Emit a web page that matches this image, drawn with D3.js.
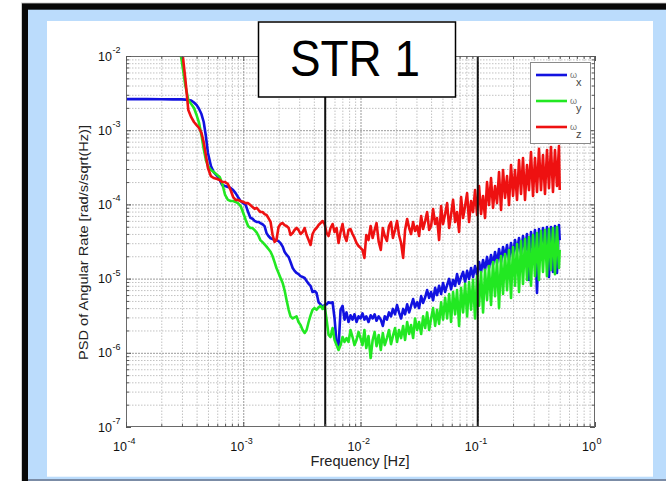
<!DOCTYPE html>
<html>
<head>
<meta charset="utf-8">
<script src="https://cdn.jsdelivr.net/npm/d3@7"></script>
<style>
  body { margin: 0; background: #fff; }
  svg { display: block; }
  text { font-family: "Liberation Sans", Arial, Helvetica, sans-serif; }
</style>
</head>
<body>
<svg id="chart" width="666" height="481"></svg>
<script>
// Frequency bins [Hz] shared by the three rate channels
const freq = [
  1e-4, 1.5e-4, 2e-4, 2.5e-4, 2.8e-4, 3e-4, 3.2e-4, 3.4e-4, 3.6e-4, 3.8e-4,
  4e-4, 4.2e-4, 4.4e-4, 4.6e-4, 4.8e-4, 5e-4, 5.3e-4, 5.6e-4, 6e-4, 6.3e-4,
  6.6e-4, 7e-4, 7.4e-4, 7.8e-4, 8.2e-4, 8.6e-4, 9e-4, 9.5e-4, 1e-3, 1.05e-3,
  1.1e-3, 1.15e-3,
  0.0012, 0.00125, 0.0013, 0.00135, 0.0014, 0.00146, 0.00152, 0.00158, 0.00164, 0.00171,
  0.00178, 0.00185, 0.00192, 0.002, 0.00208, 0.00217, 0.00225, 0.00234, 0.00244, 0.00253,
  0.00264, 0.00274, 0.00285, 0.00296, 0.00308, 0.00321, 0.00334, 0.00347, 0.00361, 0.00375,
  0.0039, 0.00406, 0.00422, 0.00439, 0.00457, 0.00475, 0.00494, 0.00514, 0.00534, 0.00555,
  0.00578, 0.00601, 0.00625, 0.0065, 0.00676, 0.00703, 0.00731, 0.0076, 0.0079, 0.00822,
  0.00855, 0.00889, 0.00925, 0.00962, 0.01,
  0.0104, 0.0108, 0.0112, 0.0117, 0.0122, 0.0127, 0.0132, 0.0137, 0.0143, 0.0149,
  0.0155, 0.0161, 0.0168, 0.0175, 0.0182, 0.0189, 0.0197, 0.0205, 0.0213, 0.0222,
  0.0231, 0.024, 0.025, 0.026, 0.027, 0.0281, 0.0292, 0.0304, 0.0316, 0.0329,
  0.0342, 0.0356, 0.037, 0.0385, 0.04, 0.0416, 0.0433, 0.045, 0.0468, 0.0487,
  0.0506, 0.0527, 0.0548, 0.057, 0.0592, 0.0616, 0.0641, 0.0666, 0.0693, 0.0721,
  0.075, 0.078, 0.0811, 0.0843, 0.0877, 0.0912, 0.0949, 0.0987, 0.1026, 0.1067,
  0.111, 0.1154, 0.12, 0.1248, 0.1298, 0.135, 0.1404, 0.146, 0.1519, 0.158,
  0.1643, 0.1709, 0.1777, 0.1848, 0.1922, 0.1999, 0.2079, 0.2162, 0.2249, 0.2339,
  0.2432, 0.2529, 0.2631, 0.2736, 0.2845, 0.2959, 0.3078, 0.3201, 0.3329, 0.3462,
  0.3601, 0.3745, 0.3895, 0.405, 0.4212, 0.4381, 0.4556, 0.4738, 0.4928, 0.5
];

// PSD of angular rate, x axis [rad/s/sqrt(Hz)]
const psdX = [
  2.62e-3, 2.62e-3, 2.61e-3, 2.6e-3, 2.6e-3, 2.6e-3, 2.58e-3, 2.55e-3, 2.51e-3, 2.36e-3,
  2.19e-3, 1.93e-3, 1.65e-3, 1.29e-3, 8.35e-4, 4.93e-4, 3.29e-4, 2.73e-4, 2.41e-4, 2.13e-4,
  1.83e-4, 1.77e-4, 1.72e-4, 1.66e-4, 1.56e-4, 1.42e-4, 1.26e-4, 1.11e-4, 1.04e-4, 9.8e-5,
  7.9e-5, 6.6e-5,
  6.4e-5, 6.0e-5, 5.8e-5, 5.8e-5, 5.6e-5, 5.4e-5, 5.1e-5, 4.1e-5, 3.75e-5, 3.5e-5,
  3.4e-5, 3.3e-5, 3.3e-5, 3.2e-5, 3.0e-5, 2.7e-5, 2.3e-5, 2.1e-5, 1.95e-5, 1.67e-5,
  1.39e-5, 1.27e-5, 1.19e-5, 1.15e-5, 1.08e-5, 1.05e-5, 1.02e-5, 9.3e-6, 8.5e-6, 8.0e-6,
  6.6e-6, 6.8e-6, 6.4e-6, 4.8e-6, 4.5e-6, 4.1e-6, 4.4e-6, 4.5e-6, 4.8e-6, 4.7e-6,
  4.8e-6, 2.9e-6, 1.35e-6, 1.2e-6, 3.8e-6, 4.3e-6, 2.8e-6, 3.5e-6, 2.6e-6, 3.2e-6,
  2.8e-6, 3.3e-6, 2.6e-6, 3.1e-6, 2.9e-6,
  3.4e-6, 2.8e-6, 3.1e-6, 2.6e-6, 3.2e-6, 2.9e-6, 3.3e-6, 2.7e-6, 3.1e-6, 2.8e-6,
  2.3e-6, 3.1e-6, 2.8e-6, 3.5e-6, 3.1e-6, 3.9e-6, 3.3e-6, 4.4e-6, 3.5e-6, 2.9e-6,
  3.9e-6, 3.3e-6, 4.5e-6, 3.5e-6, 4.3e-6, 5.3e-6, 4.1e-6, 4.8e-6, 4.0e-6, 5.8e-6,
  4.7e-6, 5.6e-6, 7.0e-6, 5.5e-6, 6.6e-6, 5.1e-6, 7.5e-6, 6.0e-6, 8.0e-6, 6.2e-6,
  8.7e-6, 6.6e-6, 8.2e-6, 9.9e-6, 7.2e-6, 9.6e-6, 8.0e-6, 1.15e-5, 8.5e-6, 1.05e-5,
  1.23e-5, 9.0e-6, 1.27e-5, 9.9e-6, 1.39e-5, 1.05e-5, 1.48e-5, 1.12e-5, 1.67e-5, 1.23e-5,
  1.78e-5, 1.31e-5, 1.96e-5, 1.39e-5, 2.08e-5, 1.53e-5, 2.28e-5, 1.62e-5, 2.51e-5, 1.67e-5,
  2.67e-5, 1.9e-5, 2.84e-5, 1.78e-5, 3.02e-5, 2.02e-5, 3.31e-5, 2.28e-5, 3.53e-5, 2.15e-5,
  3.75e-5, 2.43e-5, 3.99e-5, 9.6e-6, 4.25e-5, 2.59e-5, 4.52e-5, 6.4e-6, 4.66e-5, 2.75e-5,
  4.81e-5, 2.43e-5, 4.96e-5, 1.05e-5, 4.96e-5, 1.23e-5, 5.11e-5, 1.19e-5, 5.27e-5, 3.31e-5
];

// PSD of angular rate, y axis
const psdY = [
  2.0e-1, 1.2e-1, 7e-2, 3.5e-2, 1.6e-2, 8.3e-3, 4.1e-3, 2.55e-3, 2.25e-3, 1.99e-3,
  1.6e-3, 1.25e-3, 8.6e-4, 5.6e-4, 4.0e-4, 3.3e-4, 2.91e-4, 2.73e-4, 2.49e-4, 2.34e-4,
  1.94e-4, 1.34e-4, 1.15e-4, 1.11e-4, 1.11e-4, 1.08e-4, 1.04e-4, 9.5e-5, 7.65e-5, 6.16e-5,
  5.11e-5, 4.81e-5,
  4.8e-5, 4.5e-5, 4.2e-5, 3.75e-5, 3.3e-5, 3.1e-5, 2.9e-5, 2.7e-5, 2.5e-5, 2.3e-5,
  2.0e-5, 1.67e-5, 1.39e-5, 1.19e-5, 1.02e-5, 8.7e-6, 7.0e-6, 5.15e-6, 3.8e-6, 3.1e-6,
  2.9e-6, 3.0e-6, 3.1e-6, 2.6e-6, 2.37e-6, 2.03e-6, 1.85e-6, 2.03e-6, 2.6e-6, 3.2e-6,
  3.8e-6, 4.0e-6, 3.8e-6, 4.1e-6, 4.3e-6, 3.9e-6, 4.3e-6, 2.8e-6, 1.74e-6, 1.63e-6,
  2.16e-6, 1.49e-6, 1.27e-6, 1.09e-6, 1.27e-6, 1.63e-6, 1.4e-6, 1.58e-6, 1.4e-6, 2.03e-6,
  1.63e-6, 1.27e-6, 1.49e-6, 1.91e-6, 1.58e-6,
  1.27e-6, 2.03e-6, 1.16e-6, 1.68e-6, 8.5e-7, 1.49e-6, 1.91e-6, 1.23e-6, 1.74e-6, 1.09e-6,
  1.85e-6, 1.27e-6, 1.58e-6, 2.03e-6, 1.31e-6, 1.68e-6, 2.16e-6, 1.4e-6, 2.03e-6, 1.58e-6,
  2.3e-6, 1.49e-6, 2.6e-6, 1.79e-6, 2.37e-6, 1.58e-6, 2.9e-6, 2.03e-6, 2.6e-6, 1.79e-6,
  3.1e-6, 2.16e-6, 3.5e-6, 2.03e-6, 2.9e-6, 4.0e-6, 2.3e-6, 3.8e-6, 2.45e-6, 4.8e-6,
  2.8e-6, 5.5e-6, 2.9e-6, 6.2e-6, 2.6e-6, 6.6e-6, 3.3e-6, 7.0e-6, 2.3e-6, 7.5e-6,
  3.5e-6, 8.5e-6, 3.1e-6, 9.0e-6, 3.8e-6, 9.6e-6, 2.9e-6, 1.08e-5, 4.3e-6, 1.23e-5,
  3.5e-6, 1.31e-5, 5.15e-6, 1.48e-5, 4.4e-6, 1.67e-5, 5.8e-6, 1.78e-5, 4.0e-6, 2.02e-5,
  6.2e-6, 2.15e-5, 7.0e-6, 2.43e-5, 5.5e-6, 2.67e-5, 8.0e-6, 2.93e-5, 6.6e-6, 3.21e-5,
  8.5e-6, 3.42e-5, 9.6e-6, 3.64e-5, 8.0e-6, 3.87e-5, 1.08e-5, 4.12e-5, 9.6e-6, 4.38e-5,
  1.23e-5, 4.52e-5, 1.08e-5, 4.66e-5, 1.31e-5, 4.81e-5, 1.15e-5, 4.96e-5, 1.39e-5, 2.43e-5
];

// PSD of angular rate, z axis
const psdZ = [
  2.5e-1, 1.4e-1, 8e-2, 4e-2, 2.2e-2, 1.28e-2, 5.05e-3, 1.87e-3, 1.5e-3, 1.29e-3,
  1.17e-3, 1.07e-3, 9.2e-4, 6.9e-4, 4.6e-4, 3.1e-4, 2.4e-4, 2.27e-4, 2.2e-4, 2.13e-4,
  2.0e-4, 2.0e-4, 1.88e-4, 1.56e-4, 1.26e-4, 1.15e-4, 1.15e-4, 1.11e-4, 1.08e-4, 1.04e-4,
  1.04e-4, 9.8e-5,
  9.2e-5, 8.7e-5, 9.0e-5, 8.4e-5, 7.9e-5, 7.9e-5, 7.4e-5, 7.2e-5, 6.55e-5, 5.8e-5,
  3.87e-5, 3.12e-5, 3.31e-5, 4.96e-5, 5.44e-5, 5.61e-5, 5.27e-5, 5.11e-5, 4.81e-5, 3.87e-5,
  4.12e-5, 4.52e-5, 4.81e-5, 4.52e-5, 3.99e-5, 4.25e-5, 4.81e-5, 3.87e-5, 3.31e-5, 2.84e-5,
  3.99e-5, 4.52e-5, 4.81e-5, 5.27e-5, 5.61e-5, 5.97e-5, 5.44e-5, 4.12e-5, 3.75e-5, 4.81e-5,
  5.44e-5, 4.25e-5, 4.81e-5, 3.02e-5, 4.25e-5, 5.44e-5, 3.75e-5, 3.21e-5, 4.52e-5, 4.66e-5,
  3.99e-5, 3.53e-5, 3.02e-5, 2.75e-5, 2.59e-5,
  2.43e-5, 1.9e-5, 3.87e-5, 3.31e-5, 5.11e-5, 3.53e-5, 4.52e-5, 5.61e-5, 3.12e-5, 2.43e-5,
  4.81e-5, 3.75e-5, 3.21e-5, 5.11e-5, 5.79e-5, 3.53e-5, 4.52e-5, 5.97e-5, 3.87e-5, 3.02e-5,
  1.9e-5, 4.52e-5, 6.35e-5, 4.81e-5, 3.99e-5, 5.79e-5, 4.38e-5, 5.11e-5, 3.75e-5, 6.97e-5,
  4.66e-5, 5.97e-5, 7.9e-5, 4.52e-5, 5.11e-5, 8.67e-5, 5.44e-5, 6.55e-5, 3.31e-5, 9.5e-5,
  5.44e-5, 7.42e-5, 1.04e-4, 4.81e-5, 7.19e-5, 1.15e-4, 5.79e-5, 7.9e-5, 4.25e-5, 1.26e-4,
  6.55e-5, 9.5e-5, 1.42e-4, 5.79e-5, 1.11e-4, 7.9e-5, 1.56e-4, 7.19e-5, 1.77e-4, 7.42e-5,
  1.3e-4, 6.55e-5, 2.0e-4, 9.8e-5, 2.27e-4, 8.95e-5, 1.77e-4, 1.04e-4, 2.73e-4, 8.4e-5,
  2.91e-4, 1.22e-4, 2.41e-4, 9.8e-5, 3.4e-4, 1.3e-4, 2.91e-4, 1.15e-4, 3.97e-4, 1.38e-4,
  4.22e-4, 1.15e-4, 3.4e-4, 1.56e-4, 5.08e-4, 1.3e-4, 4.22e-4, 1.47e-4, 5.6e-4, 1.56e-4,
  4.63e-4, 1.38e-4, 5.4e-4, 1.66e-4, 5.95e-4, 1.47e-4, 5.4e-4, 1.77e-4, 6.1e-4, 1.56e-4
];

const seriesNames = ["x", "y", "z"];
const seriesColors = ["#1212e0", "#22e822", "#ee1111"];
const seriesValues = [psdX, psdY, psdZ];

const xTicks = [1e-4, 1e-3, 1e-2, 1e-1, 1];
const xTickExp = ["-4", "-3", "-2", "-1", "0"];
const yTicks = [1e-7, 1e-6, 1e-5, 1e-4, 1e-3, 1e-2];
const yTickExp = ["-7", "-6", "-5", "-4", "-3", "-2"];
const markerFreqs = [5e-3, 1e-1];

const titleText = "STR 1";
const xLabel = "Frequency [Hz]";
const yLabel = "PSD of Angular Rate [rad/s/sqrt(Hz)]";

// ---- layout ----
const W = 666, H = 481;
const X0 = 126, X1 = 595, Y0 = 56, Y1 = 427;

const x = d3.scaleLog().domain([1e-4, 1]).range([X0, X1]);
const y = d3.scaleLog().domain([1e-7, 1e-2]).range([Y1, Y0]);

const svg = d3.select("#chart");

// slide frame: black rule, light-blue mat, white panel
svg.append("rect").attr("width", W).attr("height", H).attr("fill", "#fff");
svg.append("rect").attr("x", 21).attr("y", 2.5).attr("width", W - 21).attr("height", H - 2.5).attr("fill", "#cfcfcf");
svg.append("rect").attr("x", 22).attr("y", 3.4).attr("width", W - 22).attr("height", H - 3.4).attr("fill", "#080808");
svg.append("rect").attr("x", 28).attr("y", 9.7).attr("width", W - 28).attr("height", H - 9.7).attr("fill", "#bbdcfc");
svg.append("rect").attr("x", 28).attr("y", 479).attr("width", W - 28).attr("height", 2).attr("fill", "#7b8ca6");
svg.append("rect").attr("x", 47).attr("y", 21).attr("width", 606).attr("height", 455.7).attr("fill", "#fff");

// decade and sub-decade positions for grid and ticks
const minorX = [], minorY = [];
for (let e = -4; e < 0; e++) for (let m = 2; m <= 9; m++) minorX.push(m * Math.pow(10, e));
for (let e = -7; e < -2; e++) for (let m = 2; m <= 9; m++) minorY.push(m * Math.pow(10, e));

function gridX(vals, color, dash) {
  const g = svg.append("g").attr("transform", `translate(0,${Y1})`)
    .call(d3.axisBottom(x).tickValues(vals).tickSize(-(Y1 - Y0)).tickFormat(""));
  g.select(".domain").remove();
  g.selectAll(".tick line").attr("stroke", color).attr("stroke-dasharray", dash);
}
function gridY(vals, color, dash) {
  const g = svg.append("g").attr("transform", `translate(${X0},0)`)
    .call(d3.axisLeft(y).tickValues(vals).tickSize(-(X1 - X0)).tickFormat(""));
  g.select(".domain").remove();
  g.selectAll(".tick line").attr("stroke", color).attr("stroke-dasharray", dash);
}
gridX(minorX, "#c2c2c2", "1.5,1.5");
gridY(minorY, "#c2c2c2", "1.5,1.5");
gridX(xTicks.slice(1, -1), "#9a9a9a", "2,1");
gridY(yTicks.slice(1, -1), "#9a9a9a", "2,1");

// PSD curves
svg.append("clipPath").attr("id", "plotClip")
  .append("rect").attr("x", X0).attr("y", Y0).attr("width", X1 - X0).attr("height", Y1 - Y0);

const plotG = svg.append("g").attr("clip-path", "url(#plotClip)");
seriesValues.forEach((vals, si) => {
  const line = d3.line()
    .defined(i => vals[i] != null)
    .x(i => x(freq[i]))
    .y(i => y(vals[i]));
  plotG.append("path")
    .attr("d", line(d3.range(freq.length)))
    .attr("fill", "none")
    .attr("stroke", seriesColors[si])
    .attr("stroke-width", 2.6)
    .attr("stroke-linejoin", "round");
});

// band markers
markerFreqs.forEach(f => {
  svg.append("line")
    .attr("x1", x(f)).attr("x2", x(f)).attr("y1", Y0).attr("y2", Y1)
    .attr("stroke", "#111").attr("stroke-width", 2);
});

// axes box with inward ticks on all four sides
svg.append("rect").attr("x", X0 + 0.5).attr("y", Y0 + 0.5)
  .attr("width", X1 - X0 - 1).attr("height", Y1 - Y0 - 1)
  .attr("fill", "none").attr("stroke", "#6a6a6a");

function ticks(axisFn, scale, vals, size, tr) {
  const g = svg.append("g").attr("transform", tr)
    .call(axisFn(scale).tickValues(vals).tickSizeInner(size).tickSizeOuter(0).tickFormat(""));
  g.select(".domain").remove();
  g.selectAll(".tick line").attr("stroke", "#555");
}
ticks(d3.axisBottom, x, xTicks, -5, `translate(0,${Y1})`);
ticks(d3.axisBottom, x, minorX, -3, `translate(0,${Y1})`);
ticks(d3.axisTop, x, xTicks, -5, `translate(0,${Y0})`);
ticks(d3.axisTop, x, minorX, -3, `translate(0,${Y0})`);
ticks(d3.axisLeft, y, yTicks, -5, `translate(${X0},0)`);
ticks(d3.axisLeft, y, minorY, -3, `translate(${X0},0)`);
ticks(d3.axisRight, y, yTicks, -5, `translate(${X1},0)`);
ticks(d3.axisRight, y, minorY, -3, `translate(${X1},0)`);

// tick labels as 10^n
xTicks.forEach((v, i) => {
  const px = x(v);
  svg.append("text").attr("x", px + 1).attr("y", 451).attr("text-anchor", "end")
    .attr("font-size", 12.5).attr("fill", "#111").text("10");
  svg.append("text").attr("x", px + 1.5).attr("y", 443.5).attr("text-anchor", "start")
    .attr("font-size", 9).attr("fill", "#111").text(xTickExp[i]);
});
yTicks.forEach((v, i) => {
  const py = y(v);
  svg.append("text").attr("x", 112).attr("y", py + 4.5).attr("text-anchor", "end")
    .attr("font-size", 12.5).attr("fill", "#111").text("10");
  svg.append("text").attr("x", 112.5).attr("y", py - 3).attr("text-anchor", "start")
    .attr("font-size", 9).attr("fill", "#111").text(yTickExp[i]);
});

// axis titles
svg.append("text").attr("x", 360).attr("y", 466).attr("text-anchor", "middle")
  .attr("font-size", 14).attr("fill", "#222")
  .attr("textLength", 99).attr("lengthAdjust", "spacingAndGlyphs")
  .text(xLabel);
svg.append("g").attr("transform", "translate(88,242.5) rotate(-90) scale(1,0.85)")
  .append("text").attr("x", 0).attr("y", 0).attr("text-anchor", "middle")
  .attr("font-size", 14).attr("fill", "#222")
  .attr("textLength", 235).attr("lengthAdjust", "spacingAndGlyphs")
  .text(yLabel);

// title box
svg.append("rect").attr("x", 258.5).attr("y", 22).attr("width", 197).attr("height", 75)
  .attr("fill", "#fff").attr("stroke", "#000").attr("stroke-width", 1.5);
svg.append("text").attr("x", 290).attr("y", 76).attr("font-size", 50).attr("fill", "#000")
  .attr("textLength", 130).attr("lengthAdjust", "spacingAndGlyphs")
  .text(titleText);

// legend
const legY = [75, 101, 127];
svg.append("rect").attr("x", 530.5).attr("y", 62.5).attr("width", 60).attr("height", 81)
  .attr("fill", "#fff").attr("stroke", "#8a8a8a");
seriesNames.forEach((n, i) => {
  svg.append("line").attr("x1", 536).attr("x2", 567).attr("y1", legY[i]).attr("y2", legY[i])
    .attr("stroke", seriesColors[i]).attr("stroke-width", 2.6);
  svg.append("text").attr("x", 570).attr("y", legY[i] + 3).attr("font-size", 9)
    .attr("fill", "#777").text("\u03C9");
  svg.append("text").attr("x", 576).attr("y", legY[i] + 11).attr("font-size", 11)
    .attr("fill", "#444").text(n);
});
</script>
</body>
</html>
